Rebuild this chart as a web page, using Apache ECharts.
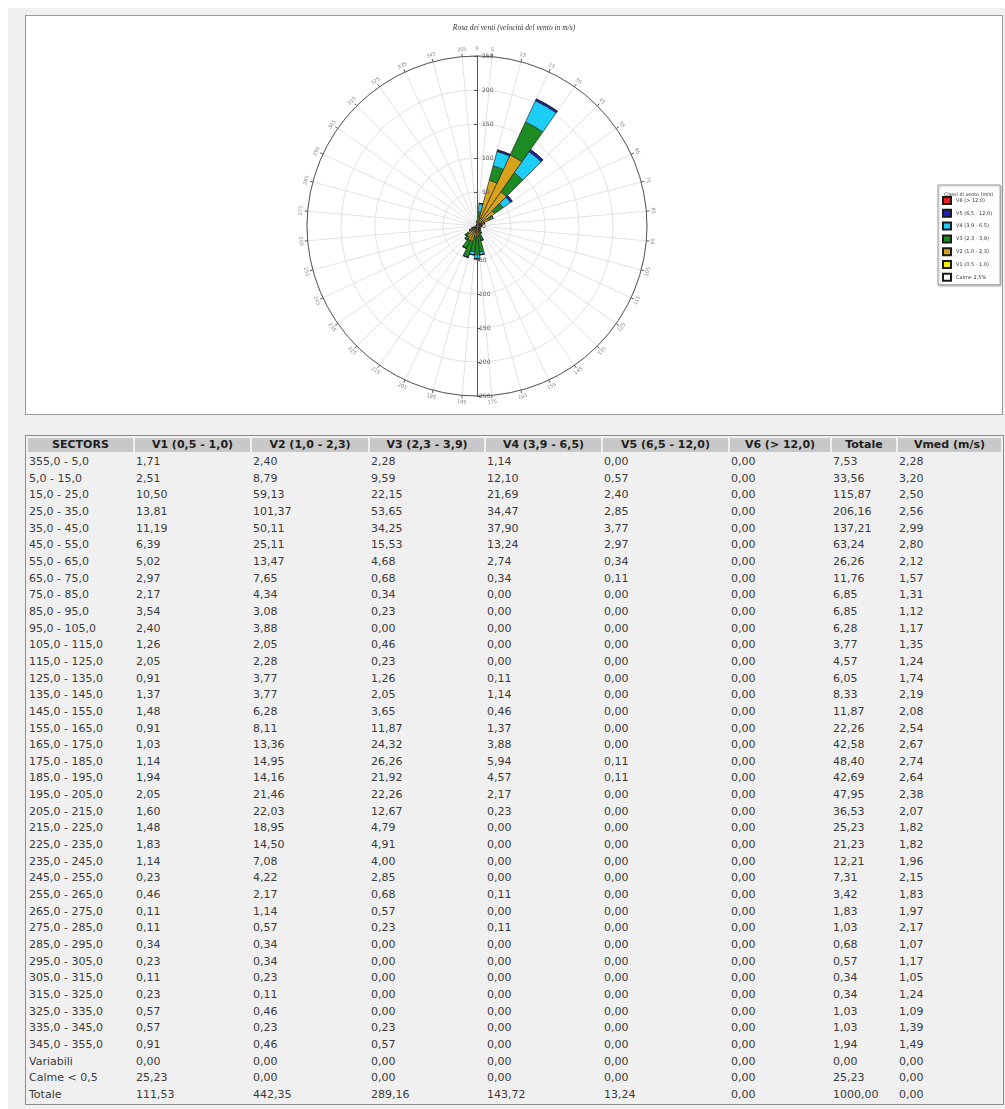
<!DOCTYPE html>
<html>
<head>
<meta charset="utf-8">
<title>Rosa dei venti</title>
<script src="https://cdn.jsdelivr.net/npm/echarts@6/dist/echarts.min.js"></script>
<style>
  html, body { margin: 0; padding: 0; background: #fff; }
  #page { position: absolute; left: 8px; top: 8px; width: 997px; height: 1101px; background: #f0f0f0; }
  #rose { position: absolute; left: 25px; top: 15px; width: 976px; height: 398px; background: #fff; border: 1px solid #9a9a9a; }
  #tab {
    position: absolute; left: 25px; top: 435px;
    border: 1px solid #8c8c8c; border-spacing: 2px 0; table-layout: fixed;
    font-family: 'DejaVu Sans', Verdana, sans-serif; font-size: 11px; color: #3a3a3a;
    background: #f0f0f0;
  }
  #tab th {
    background: #c8c8c8; background-clip: padding-box; color: #1e1e1e; font-weight: bold;
    height: 14px; line-height: 14px; padding: 0; text-align: center; white-space: nowrap;
    border-top: 2px solid transparent; border-bottom: 2px solid transparent;
  }
  #tab td { height: 16.65px; line-height: 16.65px; padding: 0 0 0 1px; white-space: nowrap; text-align: left; }
</style>
</head>
<body>
<div id="page"></div>
<div id="rose"></div>
<table id="tab"></table>
<script>
// Wind speed classes (m/s)
const classes = ['V1 (0,5 - 1,0)', 'V2 (1,0 - 2,3)', 'V3 (2,3 - 3,9)', 'V4 (3,9 - 6,5)', 'V5 (6,5 - 12,0)', 'V6 (> 12,0)'];
const classColors = ['#f2f200', '#d9a21c', '#1c8c22', '#1ccdf5', '#2222bb', '#e82020'];

// Direction sectors (degrees)
const sectors = ['355,0 - 5,0', '5,0 - 15,0', '15,0 - 25,0', '25,0 - 35,0', '35,0 - 45,0', '45,0 - 55,0',
  '55,0 - 65,0', '65,0 - 75,0', '75,0 - 85,0', '85,0 - 95,0', '95,0 - 105,0', '105,0 - 115,0',
  '115,0 - 125,0', '125,0 - 135,0', '135,0 - 145,0', '145,0 - 155,0', '155,0 - 165,0', '165,0 - 175,0',
  '175,0 - 185,0', '185,0 - 195,0', '195,0 - 205,0', '205,0 - 215,0', '215,0 - 225,0', '225,0 - 235,0',
  '235,0 - 245,0', '245,0 - 255,0', '255,0 - 265,0', '265,0 - 275,0', '275,0 - 285,0', '285,0 - 295,0',
  '295,0 - 305,0', '305,0 - 315,0', '315,0 - 325,0', '325,0 - 335,0', '335,0 - 345,0', '345,0 - 355,0'];

// Frequencies (per mille) by sector and class
const v1 = [1.71, 2.51, 10.50, 13.81, 11.19, 6.39, 5.02, 2.97, 2.17, 3.54, 2.40, 1.26, 2.05, 0.91, 1.37, 1.48, 0.91, 1.03,
  1.14, 1.94, 2.05, 1.60, 1.48, 1.83, 1.14, 0.23, 0.46, 0.11, 0.11, 0.34, 0.23, 0.11, 0.23, 0.57, 0.57, 0.91];
const v2 = [2.40, 8.79, 59.13, 101.37, 50.11, 25.11, 13.47, 7.65, 4.34, 3.08, 3.88, 2.05, 2.28, 3.77, 3.77, 6.28, 8.11, 13.36,
  14.95, 14.16, 21.46, 22.03, 18.95, 14.50, 7.08, 4.22, 2.17, 1.14, 0.57, 0.34, 0.34, 0.23, 0.11, 0.46, 0.23, 0.46];
const v3 = [2.28, 9.59, 22.15, 53.65, 34.25, 15.53, 4.68, 0.68, 0.34, 0.23, 0.00, 0.46, 0.23, 1.26, 2.05, 3.65, 11.87, 24.32,
  26.26, 21.92, 22.26, 12.67, 4.79, 4.91, 4.00, 2.85, 0.68, 0.57, 0.23, 0.00, 0.00, 0.00, 0.00, 0.00, 0.23, 0.57];
const v4 = [1.14, 12.10, 21.69, 34.47, 37.90, 13.24, 2.74, 0.34, 0.00, 0.00, 0.00, 0.00, 0.00, 0.11, 1.14, 0.46, 1.37, 3.88,
  5.94, 4.57, 2.17, 0.23, 0.00, 0.00, 0.00, 0.00, 0.11, 0.00, 0.11, 0.00, 0.00, 0.00, 0.00, 0.00, 0.00, 0.00];
const v5 = [0.00, 0.57, 2.40, 2.85, 3.77, 2.97, 0.34, 0.11, 0.00, 0.00, 0.00, 0.00, 0.00, 0.00, 0.00, 0.00, 0.00, 0.00,
  0.11, 0.11, 0.00, 0.00, 0.00, 0.00, 0.00, 0.00, 0.00, 0.00, 0.00, 0.00, 0.00, 0.00, 0.00, 0.00, 0.00, 0.00];
const v6 = [0.00, 0.00, 0.00, 0.00, 0.00, 0.00, 0.00, 0.00, 0.00, 0.00, 0.00, 0.00, 0.00, 0.00, 0.00, 0.00, 0.00, 0.00,
  0.00, 0.00, 0.00, 0.00, 0.00, 0.00, 0.00, 0.00, 0.00, 0.00, 0.00, 0.00, 0.00, 0.00, 0.00, 0.00, 0.00, 0.00];
const totale = [7.53, 33.56, 115.87, 206.16, 137.21, 63.24, 26.26, 11.76, 6.85, 6.85, 6.28, 3.77, 4.57, 6.05, 8.33, 11.87, 22.26, 42.58,
  48.40, 42.69, 47.95, 36.53, 25.23, 21.23, 12.21, 7.31, 3.42, 1.83, 1.03, 0.68, 0.57, 0.34, 0.34, 1.03, 1.03, 1.94];
const vmed = [2.28, 3.20, 2.50, 2.56, 2.99, 2.80, 2.12, 1.57, 1.31, 1.12, 1.17, 1.35, 1.24, 1.74, 2.19, 2.08, 2.54, 2.67,
  2.74, 2.64, 2.38, 2.07, 1.82, 1.82, 1.96, 2.15, 1.83, 1.97, 2.17, 1.07, 1.17, 1.05, 1.24, 1.09, 1.39, 1.49];

// Summary rows: V1..V6, Totale, Vmed
const rowVariabili = [0.00, 0.00, 0.00, 0.00, 0.00, 0.00, 0.00, 0.00];
const rowCalme = [25.23, 0.00, 0.00, 0.00, 0.00, 0.00, 25.23, 0.00];
const rowTotale = [111.53, 442.35, 289.16, 143.72, 13.24, 0.00, 1000.00, 0.00];

// Direction labels around the rose and radial ticks
const angleLabels = [0, 5, 15, 25, 35, 45, 55, 65, 75, 85, 95, 105, 115, 125, 135, 145, 155, 165, 175,
  185, 195, 205, 215, 225, 235, 245, 255, 265, 275, 285, 295, 305, 315, 325, 335, 345, 355];
const radiusMax = 250;
const radiusStep = 50;

const fmt = v => v.toFixed(2).replace('.', ',');

// ---- table ----
(function buildTable() {
  const widths = [105, 115, 116, 114, 115, 125, 100, 64, 103];
  const head = ['SECTORS'].concat(classes, ['Totale', 'Vmed (m/s)']);
  const byClass = [v1, v2, v3, v4, v5, v6];
  let html = '<colgroup>' + widths.map(w => '<col style="width:' + w + 'px">').join('') + '</colgroup>';
  html += '<tr>' + head.map(h => '<th>' + h.replace(/>/g, '&gt;') + '</th>').join('') + '</tr>';
  sectors.forEach((s, i) => {
    const cells = [s].concat(byClass.map(a => fmt(a[i])), [fmt(totale[i]), fmt(vmed[i])]);
    html += '<tr>' + cells.map(c => '<td>' + c + '</td>').join('') + '</tr>';
  });
  [['Variabili', rowVariabili], ['Calme &lt; 0,5', rowCalme], ['Totale', rowTotale]].forEach(([label, vals]) => {
    html += '<tr><td>' + label + '</td>' + vals.map(v => '<td>' + fmt(v) + '</td>').join('') + '</tr>';
  });
  document.getElementById('tab').innerHTML = html;
})();

// ---- wind rose ----
const chart = echarts.init(document.getElementById('rose'));
const center = [451, 210];
const R = 170;
const calmeLabel = 'Calme ' + (rowCalme[6] / 10).toFixed(1).replace('.', ',') + '%';
const seriesData = [v1, v2, v3, v4, v5, v6];

const radialBase = {
  type: 'value', min: 0, max: radiusMax, interval: radiusStep, z: 10,
  axisLine: { show: true, lineStyle: { color: '#555', width: 1 } },
  axisTick: { show: true, length: 3, lineStyle: { color: '#555' } },
  splitLine: { show: false },
  axisLabel: { fontSize: 6, color: '#555', margin: 2, fontFamily: 'DejaVu Sans' }
};

// direction labels follow the circle, kept upright on the lower half
const labelRotation = a => (a <= 90 || a >= 270) ? -a : 180 - a;

chart.setOption({
  animation: false,
  title: [
    { text: 'Rosa dei venti (velocità del vento in m/s)', left: 'center', top: 3,
      textStyle: { fontSize: 7.5, fontStyle: 'italic', fontWeight: 'normal', fontFamily: 'Liberation Serif', color: '#333' } },
    { text: 'Classi di vento (m/s)', left: 913, top: 171,
      textStyle: { fontSize: 4.8, fontWeight: 'normal', fontFamily: 'DejaVu Sans', color: '#333' } }
  ],
  legend: {
    orient: 'vertical', left: 912, top: 169, icon: 'rect',
    padding: [11, 8, 3, 4], itemGap: 3.8, itemWidth: 8, itemHeight: 7,
    backgroundColor: '#fff', borderColor: '#999', borderWidth: 1,
    shadowColor: 'rgba(0,0,0,0.25)', shadowBlur: 2, shadowOffsetX: 1, shadowOffsetY: 1,
    textStyle: { fontSize: 5, color: '#333', fontFamily: 'DejaVu Sans' },
    data: classes.slice().reverse().concat([calmeLabel])
  },
  polar: [
    { center: center, radius: R },
    { center: center, radius: R },
    { center: center, radius: R }
  ],
  angleAxis: [
    { polarIndex: 0, type: 'category', data: sectors, startAngle: 95, clockwise: true, boundaryGap: true,
      axisLine: { show: true, lineStyle: { color: '#555', width: 1 } },
      axisTick: { show: true, interval: 0, length: 3, lineStyle: { color: '#555' } },
      axisLabel: { show: false, interval: 0 },
      splitLine: { show: true, interval: 0, lineStyle: { color: '#e2e2e2', width: 1 } } },
    { polarIndex: 1, type: 'value', min: 0, max: 360, interval: 5, startAngle: 90, clockwise: true,
      axisLine: { show: false }, axisTick: { show: false }, splitLine: { show: false }, axisLabel: { show: false } },
    { polarIndex: 2, type: 'value', min: 0, max: 360, startAngle: 270, clockwise: true, show: false }
  ],
  radiusAxis: [
    { polarIndex: 0, type: 'value', min: 0, max: radiusMax, interval: radiusStep,
      axisLine: { show: false }, axisTick: { show: false }, axisLabel: { show: false },
      splitLine: { show: true, lineStyle: { color: '#e2e2e2', width: 1 } } },
    Object.assign({ polarIndex: 1 }, radialBase, {
      axisTick: Object.assign({}, radialBase.axisTick, { inside: true }),
      axisLabel: Object.assign({}, radialBase.axisLabel, { margin: -5, align: 'left' }) }),
    Object.assign({ polarIndex: 2 }, radialBase, { axisLabel: Object.assign({}, radialBase.axisLabel, { formatter: v => v === 0 ? '' : String(v) }) })
  ],
  series: classes.map((name, k) => ({
    name: name, type: 'bar', coordinateSystem: 'polar', polarIndex: 0, stack: 'vento',
    barCategoryGap: '0%', data: seriesData[k],
    itemStyle: { color: classColors[k], borderColor: '#1a1a1a', borderWidth: 0.6 }
  })).concat([{
    name: calmeLabel, type: 'bar', coordinateSystem: 'polar', polarIndex: 0, stack: 'vento',
    barCategoryGap: '0%', data: [],
    itemStyle: { color: '#fff', borderColor: '#1a1a1a', borderWidth: 0.6 }
  }, {
    name: 'direzioni', type: 'scatter', coordinateSystem: 'polar', polarIndex: 1,
    symbolSize: 1, clip: false, silent: true, z: 5,
    itemStyle: { color: 'rgba(0,0,0,0)' },
    data: angleLabels.map(a => ({ value: [radiusMax * 1.04, a], label: { rotate: labelRotation(a) } })),
    label: { show: true, position: 'inside', formatter: p => String(p.value[1]),
      fontSize: 5, color: '#666', fontFamily: 'DejaVu Sans' }
  }])
});
</script>
</body>
</html>
